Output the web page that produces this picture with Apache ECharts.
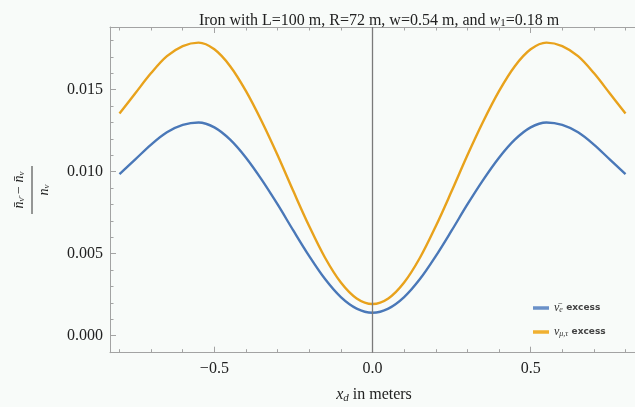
<!DOCTYPE html>
<html>
<head>
<meta charset="utf-8">
<script src="https://cdn.jsdelivr.net/npm/echarts@6/dist/echarts.min.js"></script>
<style>html,body{margin:0;padding:0;background:#f8fbf9;}#c{width:635px;height:407px;}</style>
</head>
<body>
<div id="c"></div>
<script>
// ---- data ----
const xs = [-0.80,-0.75,-0.70,-0.65,-0.60,-0.55,-0.50,-0.45,-0.40,-0.35,-0.30,-0.25,-0.20,-0.15,-0.10,-0.05,0.00,
             0.05,0.10,0.15,0.20,0.25,0.30,0.35,0.40,0.45,0.50,0.55,0.60,0.65,0.70,0.75,0.80];
const nuEBar = [0.00985,0.01075,0.01165,0.01240,0.01285,0.01300,0.01270,0.01195,0.01085,0.00950,0.00800,0.00640,0.00485,0.00345,0.00235,0.00165,0.00140,
                0.00165,0.00235,0.00345,0.00485,0.00640,0.00800,0.00950,0.01085,0.01195,0.01270,0.01300,0.01285,0.01240,0.01165,0.01075,0.00985];
const nuMuTau = [0.01354,0.01478,0.01601,0.01704,0.01766,0.01787,0.01746,0.01643,0.01491,0.01306,0.01100,0.00880,0.00667,0.00475,0.00324,0.00227,0.00193,
                 0.00227,0.00324,0.00475,0.00667,0.00880,0.01100,0.01306,0.01491,0.01643,0.01746,0.01787,0.01766,0.01704,0.01601,0.01478,0.01354];
const seriesNames = ['nuebar', 'numutau'];
const xMajorTicks = [-0.5, 0, 0.5];
const xMinorTicks = [-0.8,-0.7,-0.6,-0.4,-0.3,-0.2,-0.1,0.1,0.2,0.3,0.4,0.6,0.7,0.8];
const yMajorTicks = [0, 0.005, 0.010, 0.015];
const yMinorTicks = [0.001,0.002,0.003,0.004,0.006,0.007,0.008,0.009,0.011,0.012,0.013,0.014,0.016,0.017,0.018];
const XMIN = -0.83, XMAX = 0.83, YMIN = -0.001037, YMAX = 0.01882;

const SERIF = '"Liberation Serif", "DejaVu Serif", serif';
const frameColor = '#a3a3a3';
const labelColor = '#222';

function xAxisDef(pos, ticks, len, showLine, showLabel) {
  return {
    type: 'value', position: pos, min: XMIN, max: XMAX,
    axisLine: { show: showLine, onZero: false, lineStyle: { color: frameColor, width: 1 } },
    axisTick: { show: true, inside: true, length: len, customValues: ticks, lineStyle: { color: frameColor } },
    axisLabel: { show: showLabel, customValues: ticks, fontFamily: SERIF, fontSize: 16, color: labelColor, margin: 8,
      formatter: v => (v < 0 ? '\u2212' : '') + Math.abs(v).toFixed(1) },
    splitLine: { show: false }
  };
}
function yAxisDef(pos, ticks, len, showLine, showLabel) {
  return {
    type: 'value', position: pos, min: YMIN, max: YMAX,
    axisLine: { show: showLine, onZero: false, lineStyle: { color: frameColor, width: 1 } },
    axisTick: { show: true, inside: true, length: len, customValues: ticks, lineStyle: { color: frameColor } },
    axisLabel: { show: showLabel, customValues: ticks, fontFamily: SERIF, fontSize: 16, color: labelColor, margin: 7,
      formatter: v => v.toFixed(3) },
    splitLine: { show: false }
  };
}

const chart = echarts.init(document.getElementById('c'), null, { renderer: 'canvas' });
chart.setOption({
  backgroundColor: '#f8fbf9',
  animation: false,
  title: {
    text: 'Iron with L=100 m, R=72 m, w=0.54 m, and {i|w}{sub|1}=0.18 m',
    left: 374, top: 7, textAlign: 'center',
    textStyle: { fontFamily: SERIF, fontSize: 16, fontWeight: 'normal', color: labelColor,
      rich: {
        i: { fontFamily: SERIF, fontSize: 16, fontStyle: 'italic', color: labelColor },
        sub: { fontFamily: SERIF, fontSize: 11, color: labelColor, verticalAlign: 'bottom', padding: [6, 0, 0, 0] }
      } }
  },
  grid: { left: 110, top: 27, width: 528, height: 325.7, containLabel: false },
  xAxis: [
    xAxisDef('bottom', xMajorTicks, 6, true, true),
    xAxisDef('bottom', xMinorTicks, 3.5, false, false),
    xAxisDef('top', xMajorTicks, 6, true, false),
    xAxisDef('top', xMinorTicks, 3.5, false, false)
  ],
  yAxis: [
    yAxisDef('left', yMajorTicks, 6, true, true),
    yAxisDef('left', yMinorTicks, 3.5, false, false)
  ],
  legend: {
    orient: 'vertical', left: 528, top: 297, icon: 'rect', itemWidth: 16, itemHeight: 3.5, itemGap: 12,
    data: seriesNames,
    formatter: n => n === 'nuebar' ? '{nu|\u03BD\u0304}{sub|e} {ex|excess}' : '{nu|\u03BD}{sub|\u03BC,\u03C4} {ex|excess}',
    textStyle: { color: '#333', lineHeight: 12,
      rich: {
        nu: { fontFamily: SERIF, fontStyle: 'italic', fontSize: 12, color: '#333' },
        sub: { fontFamily: SERIF, fontStyle: 'italic', fontSize: 8, color: '#333', verticalAlign: 'bottom', padding: [5, 0, 0, 0] },
        ex: { fontFamily: '"DejaVu Sans", sans-serif', fontSize: 9, fontWeight: 'bold', color: '#444' }
      } }
  },
  graphic: [
    {
      type: 'group', x: 32, y: 190, rotation: Math.PI / 2,
      children: [
        { type: 'text', x: 0, y: -13, style: {
            text: '{i|n\u0304}{s|\u03BD\u0304}{t| \u2212 }{i|n\u0304}{s|\u03BD}',
            align: 'center', verticalAlign: 'middle',
            rich: {
              i: { fontFamily: SERIF, fontStyle: 'italic', fontSize: 14, fill: labelColor },
              s: { fontFamily: SERIF, fontStyle: 'italic', fontSize: 9, fill: labelColor, verticalAlign: 'bottom', padding: [6, 0, 0, 0] },
              t: { fontFamily: SERIF, fontSize: 14, fill: labelColor }
            } } },
        { type: 'line', shape: { x1: -24, y1: 0, x2: 24, y2: 0 }, style: { stroke: '#333', lineWidth: 1 } },
        { type: 'text', x: 0, y: 12, style: {
            text: '{i|n}{s|\u03BD}', align: 'center', verticalAlign: 'middle',
            rich: {
              i: { fontFamily: SERIF, fontStyle: 'italic', fontSize: 14, fill: labelColor },
              s: { fontFamily: SERIF, fontStyle: 'italic', fontSize: 9, fill: labelColor, verticalAlign: 'bottom', padding: [6, 0, 0, 0] }
            } } }
      ]
    },
    {
      type: 'text', x: 374, y: 395, style: {
        text: '{i|x}{s|d}{t| in meters}', align: 'center', verticalAlign: 'middle',
        rich: {
          i: { fontFamily: SERIF, fontStyle: 'italic', fontSize: 16, fill: labelColor },
          s: { fontFamily: SERIF, fontStyle: 'italic', fontSize: 11, fill: labelColor, verticalAlign: 'bottom', padding: [7, 0, 0, 0] },
          t: { fontFamily: SERIF, fontSize: 16, fill: labelColor }
        } }
    }
  ],
  series: [
    {
      name: seriesNames[0], type: 'line', xAxisIndex: 0, yAxisIndex: 0,
      data: xs.map((x, i) => [x, nuEBar[i]]), smooth: 0.35, showSymbol: false,
      lineStyle: { color: '#4a78b8', width: 2.4 }, itemStyle: { color: '#6a90c8' }, z: 3,
      markLine: { silent: true, symbol: 'none', label: { show: false },
        lineStyle: { color: '#7a7a7a', width: 1.3, type: 'solid' }, data: [{ xAxis: 0 }] }
    },
    {
      name: seriesNames[1], type: 'line', xAxisIndex: 0, yAxisIndex: 0,
      data: xs.map((x, i) => [x, nuMuTau[i]]), smooth: 0.35, showSymbol: false,
      lineStyle: { color: '#e8a21c', width: 2.4 }, itemStyle: { color: '#f0b030' }, z: 3
    }
  ]
});
</script>
</body>
</html>
